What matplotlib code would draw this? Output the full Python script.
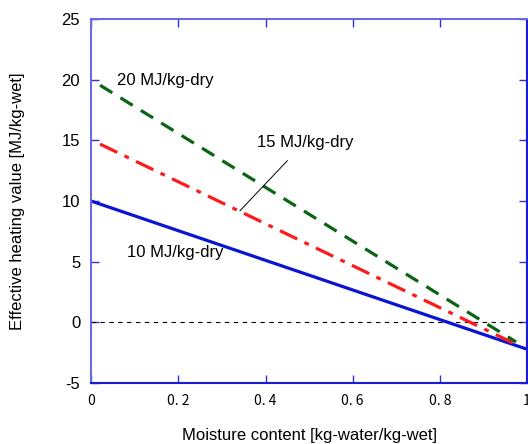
import numpy as np
import matplotlib.pyplot as plt

# donnees
x_10 = [0.0, 1.0]
y_10 = [10.0, -2.2]
x_15 = [0.02, 0.975]
y_15 = [14.7, -1.8]
x_20 = [0.02, 0.975]
y_20 = [19.55, -1.6]

x_ticks = [0, 0.2, 0.4, 0.6, 0.8, 1.0]
x_ticklabels = ["0", "0. 2", "0. 4", "0. 6", "0. 8", "1"]
y_ticks = [-5, 0, 5, 10, 15, 20, 25]

plt.rcParams['font.family'] = ['Liberation Sans', 'DejaVu Sans']
plt.rcParams['axes.unicode_minus'] = False  # tiret simple comme sur l'original

fig = plt.figure(figsize=(5.28, 4.44), dpi=100)
ax = fig.add_axes([0.173, 0.137, 0.825, 0.820])

ax.axhline(0, color='black', lw=0.8, ls=(0, (4, 4)))
ax.plot(x_10, y_10, color='#0a14d2', lw=2.3, solid_capstyle='butt')
ax.plot(x_15, y_15, color='#ff1a1a', lw=2.3, ls=(0, (6, 2.5, 1.5, 2.5)))
ax.plot(x_20, y_20, color='#0a6414', lw=2.3, ls=(0, (4.5, 3)))

ax.set_xlim(0, 1)
ax.set_ylim(-5, 25)
ax.set_xticks(x_ticks)
ax.set_xticklabels(x_ticklabels, family=['Noto Sans CJK JP', 'DejaVu Sans'],
                   fontsize=10)
ax.set_yticks(y_ticks)
ax.tick_params(axis='y', labelsize=12)
ax.tick_params(direction='in', top=True, right=True, length=6, width=1,
               color='#3030d0', pad=8)
ax.tick_params(axis='x', pad=8)

for side in ['left', 'top']:
    ax.spines[side].set_color('#6a6ae6')
    ax.spines[side].set_linewidth(1.5)
for side in ['bottom', 'right']:
    ax.spines[side].set_color('#1a1ad8')
    ax.spines[side].set_linewidth(1.5)

ax.text(0.06, 19.9, "20 MJ/kg-dry", fontsize=12, va='center')
ax.annotate("15 MJ/kg-dry", xy=(0.341, 9.2), xytext=(0.49, 14.85),
            fontsize=12, ha='center', va='center',
            arrowprops=dict(arrowstyle='-', color='black', lw=0.7,
                            shrinkA=8, shrinkB=0))
ax.text(0.082, 5.8, "10 MJ/kg-dry", fontsize=12, va='center')

ax.set_xlabel("Moisture content [kg-water/kg-wet]", fontsize=12, labelpad=14)
ax.set_ylabel("Effective heating value [MJ/kg-wet]", fontsize=12, labelpad=26)

fig.savefig("out.png", dpi=100)
